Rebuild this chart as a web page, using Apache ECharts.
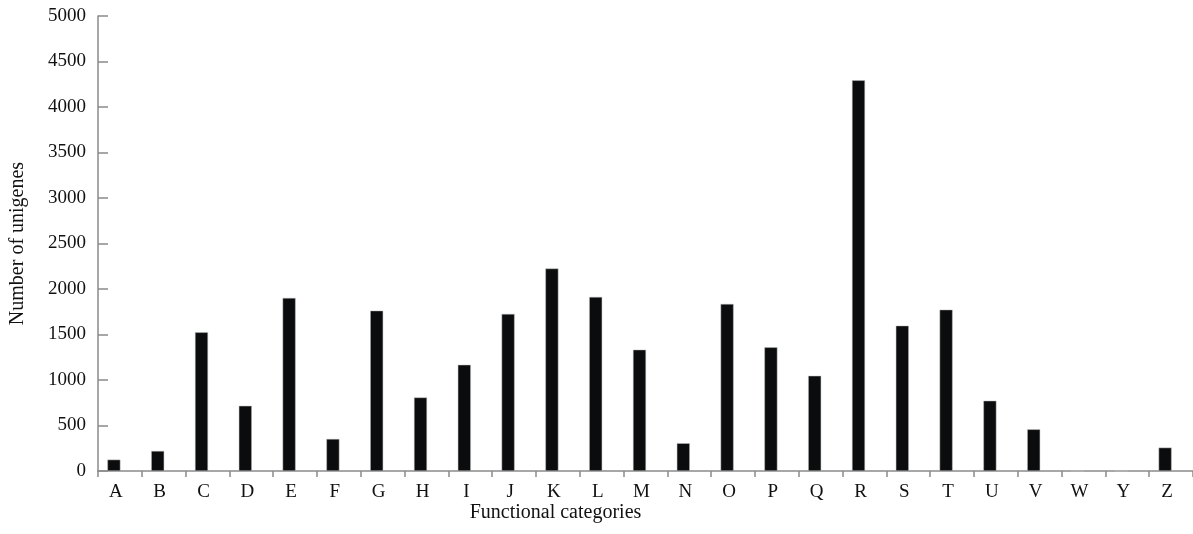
<!DOCTYPE html>
<html>
<head>
<meta charset="utf-8">
<script src="https://cdn.jsdelivr.net/npm/echarts@6/dist/echarts.min.js"></script>
<style>
  html, body { margin: 0; padding: 0; background: #fff; }
  #chart { width: 1193px; height: 534px; }
</style>
</head>
<body>
<div id="chart"></div>
<script>
const categories = ["A", "B", "C", "D", "E", "F", "G", "H", "I", "J", "K", "L", "M",
  "N", "O", "P", "Q", "R", "S", "T", "U", "V", "W", "Y", "Z"];
const unigenes = [125, 220, 1524, 716, 1902, 352, 1762, 808, 1167, 1726, 2225, 1913, 1333,
  305, 1836, 1359, 1046, 4293, 1597, 1773, 772, 458, 0, 0, 257];
const yTicks = { min: 0, max: 5000, interval: 500 };

const font = "'Liberation Serif', 'DejaVu Serif', serif";
const axisGray = "#8a8a8a";

const chart = echarts.init(document.getElementById("chart"));
chart.setOption({
  animation: false,
  backgroundColor: "#fff",
  grid: { left: 98, top: 16, width: 1100, bottom: 63, containLabel: false },
  xAxis: {
    type: "category",
    data: categories,
    name: "Functional categories",
    nameLocation: "middle",
    nameGap: 32,
    nameMoveOverlap: false,
    nameTextStyle: { fontFamily: font, fontSize: 20, color: "#111", padding: [0, 180, 0, 0] },
    axisLine: { lineStyle: { color: axisGray, width: 1.5 } },
    axisTick: { show: true, length: 6, lineStyle: { color: axisGray, width: 1.5 } },
    axisLabel: { fontFamily: font, fontSize: 19, color: "#111", margin: 12, padding: [0, 8, 0, 0] }
  },
  yAxis: {
    type: "value",
    min: yTicks.min,
    max: yTicks.max,
    interval: yTicks.interval,
    name: "Number of unigenes",
    nameLocation: "middle",
    nameGap: 70,
    nameRotate: 90,
    nameTextStyle: { fontFamily: font, fontSize: 20, color: "#111" },
    axisLine: { show: true, lineStyle: { color: axisGray, width: 1.5 } },
    axisTick: { show: true, inside: true, length: 10, lineStyle: { color: axisGray, width: 1.5 } },
    axisLabel: { fontFamily: font, fontSize: 19, color: "#111", margin: 12, formatter: (v) => String(v) },
    splitLine: { show: false }
  },
  series: [
    {
      type: "bar",
      data: unigenes,
      barWidth: 13,
      barGap: 0,
      itemStyle: { color: "#0b0c0d", borderColor: "#bcbcbc", borderWidth: 0.5 }
    },
    {
      // empty companion series, shifts the bars left of the band centre like the source
      type: "bar",
      data: [],
      barWidth: 12,
      silent: true
    }
  ]
});
</script>
</body>
</html>
